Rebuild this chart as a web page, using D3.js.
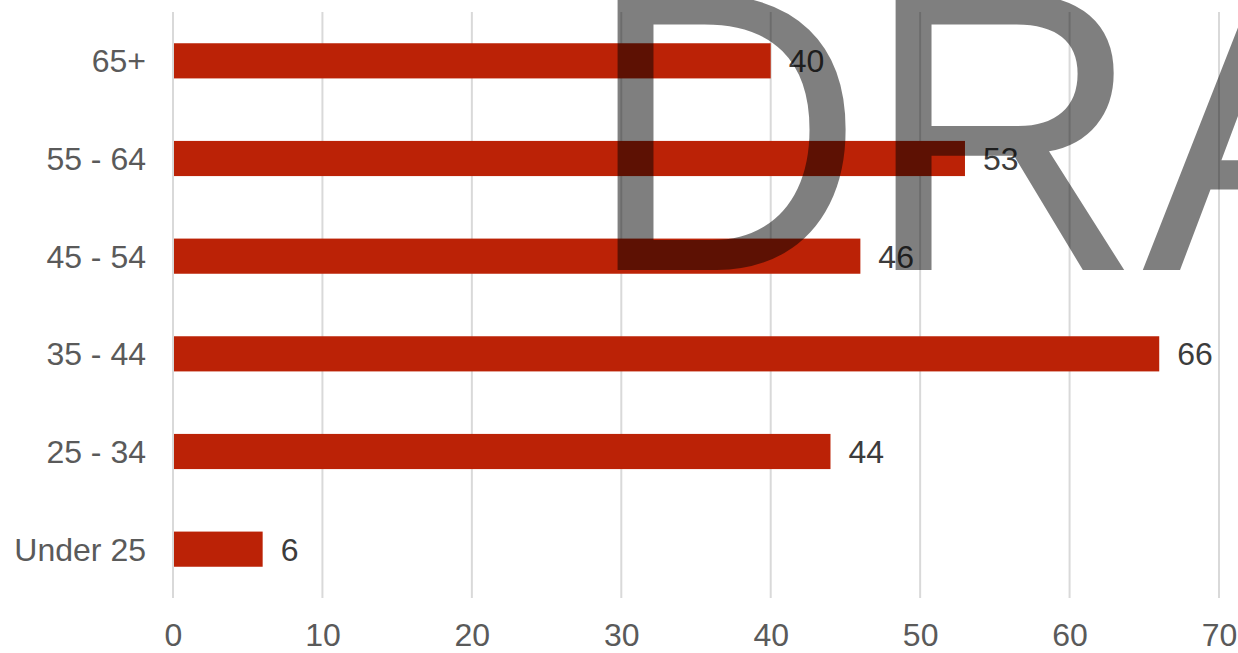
<!DOCTYPE html>
<html>
<head>
<meta charset="utf-8">
<script src="https://cdn.jsdelivr.net/npm/d3@7"></script>
<style>
  html, body { margin: 0; padding: 0; background: #fff; }
  svg { display: block; }
</style>
</head>
<body>
<svg id="chart" width="1238" height="653"></svg>
<script>
const categories = ["65+", "55 - 64", "45 - 54", "35 - 44", "25 - 34", "Under 25"];
const values = [40, 53, 46, 66, 44, 6];
const xTicks = [0, 10, 20, 30, 40, 50, 60, 70];
const watermarkText = "DRAFT";

const svg = d3.select("#chart");
const font = "Arial, 'Liberation Sans', sans-serif";

const x = d3.scaleLinear().domain([0, 70]).range([173, 1219]);
const y = d3.scaleBand().domain(categories).range([12, 598])
  .paddingInner(0.64).paddingOuter(0.32);

// gridlines
svg.append("g").selectAll("line").data(xTicks).join("line")
  .attr("x1", d => x(d)).attr("x2", d => x(d))
  .attr("y1", 12).attr("y2", 598)
  .attr("stroke", "#d9d9d9").attr("stroke-width", 2);

// bars
svg.append("g").selectAll("rect").data(values).join("rect")
  .attr("x", x(0) + 1)
  .attr("y", (d, i) => y(categories[i]))
  .attr("width", d => x(d) - x(0) - 1)
  .attr("height", y.bandwidth())
  .attr("fill", "#bb2206");

// value labels
svg.append("g").selectAll("text").data(values).join("text")
  .attr("x", d => x(d) + 18)
  .attr("y", (d, i) => y(categories[i]) + y.bandwidth() / 2)
  .attr("dy", "0.36em")
  .attr("font-family", font).attr("font-size", 32)
  .attr("fill", "#3c3c3c")
  .text(d => d);

// category axis
const yAxis = d3.axisLeft(y).tickSize(0).tickPadding(0);
const ga = svg.append("g").attr("transform", "translate(146,0)").call(yAxis);
ga.select(".domain").remove();
ga.selectAll("text").attr("font-family", font).attr("font-size", 32)
  .attr("fill", "#5a5a5a").attr("dy", "0.36em");

// x axis
const xAxis = d3.axisBottom(x).tickValues(xTicks).tickSize(0).tickPadding(0);
const gx = svg.append("g").attr("transform", "translate(0,646)").call(xAxis);
gx.select(".domain").remove();
gx.selectAll("text").attr("font-family", font).attr("font-size", 32)
  .attr("fill", "#5a5a5a").attr("y", 0).attr("dy", 0);

// watermark
svg.append("text")
  .attr("transform", "translate(586,270) scale(1,1.04)")
  .attr("font-family", font).attr("font-size", 385)
  .attr("fill", "#000").attr("fill-opacity", 0.5)
  .text(watermarkText);
</script>
</body>
</html>
